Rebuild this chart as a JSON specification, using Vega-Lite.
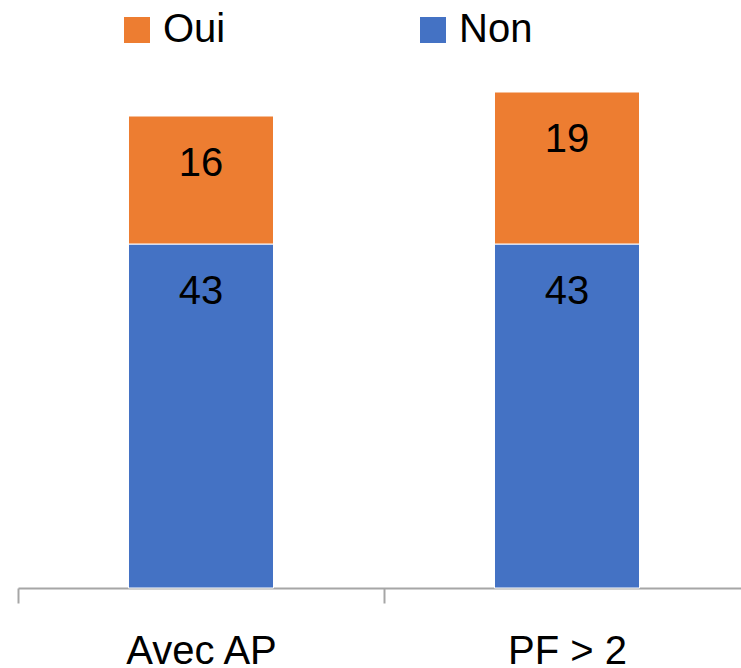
{
  "$schema": "https://vega.github.io/schema/vega-lite/v6.json",
  "width": 723,
  "height": 588,
  "autosize": {"type": "none"},
  "padding": {"left": 18, "top": 0, "right": 0, "bottom": 80},
  "config": {"view": {"stroke": null}, "font": "Liberation Sans"},
  "data": {
    "values": [
      {"categorie": "Avec AP", "serie": "Non", "value": 43},
      {"categorie": "Avec AP", "serie": "Oui", "value": 16},
      {"categorie": "PF > 2", "serie": "Non", "value": 43},
      {"categorie": "PF > 2", "serie": "Oui", "value": 19}
    ]
  },
  "transform": [
    {"stack": "value", "groupby": ["categorie"], "sort": [{"field": "serie", "order": "ascending"}], "as": ["v0", "v1"]}
  ],
  "encoding": {
    "x": {
      "field": "categorie",
      "type": "nominal",
      "sort": ["Avec AP", "PF > 2"],
      "scale": {"range": [0, 732], "paddingInner": 0, "paddingOuter": 0},
      "axis": {
        "title": null,
        "labelAngle": 0,
        "labelFont": "Liberation Sans",
        "labelFontSize": 40,
        "labelColor": "black",
        "labelLimit": 400,
        "labelPadding": 28,
        "labelOverlap": false,
        "labelFlush": false,
        "tickBand": "extent",
        "tickSize": 15,
        "tickWidth": 2,
        "tickColor": "#A6A6A6",
        "domainColor": "#A6A6A6",
        "domainWidth": 2,
        "grid": false
      }
    }
  },
  "layer": [
    {
      "mark": {"type": "bar", "stroke": "white", "strokeWidth": 1, "width": {"band": 0.3962}},
      "encoding": {
        "y": {"field": "v1", "type": "quantitative", "scale": {"domain": [0, 73.5], "nice": false}, "axis": null},
        "y2": {"field": "v0"},
        "color": {
          "field": "serie",
          "type": "nominal",
          "scale": {"domain": ["Oui", "Non"], "range": ["#ED7D31", "#4472C4"]},
          "legend": {
            "orient": "none",
            "legendX": 99,
            "legendY": 10,
            "direction": "horizontal",
            "title": null,
            "symbolType": "square",
            "symbolSize": 676,
            "symbolStrokeWidth": 0,
            "labelFont": "Liberation Sans",
            "labelFontSize": 40,
            "labelOffset": 6,
            "columnPadding": 187,
            "labelColor": "black",
            "padding": 0,
            "labelLimit": 300
          }
        }
      }
    },
    {
      "mark": {"type": "text", "baseline": "alphabetic", "dy": 60, "fontSize": 40, "font": "Liberation Sans", "color": "black"},
      "encoding": {
        "y": {"field": "v1", "type": "quantitative"},
        "text": {"field": "value", "type": "quantitative"}
      }
    }
  ]
}
